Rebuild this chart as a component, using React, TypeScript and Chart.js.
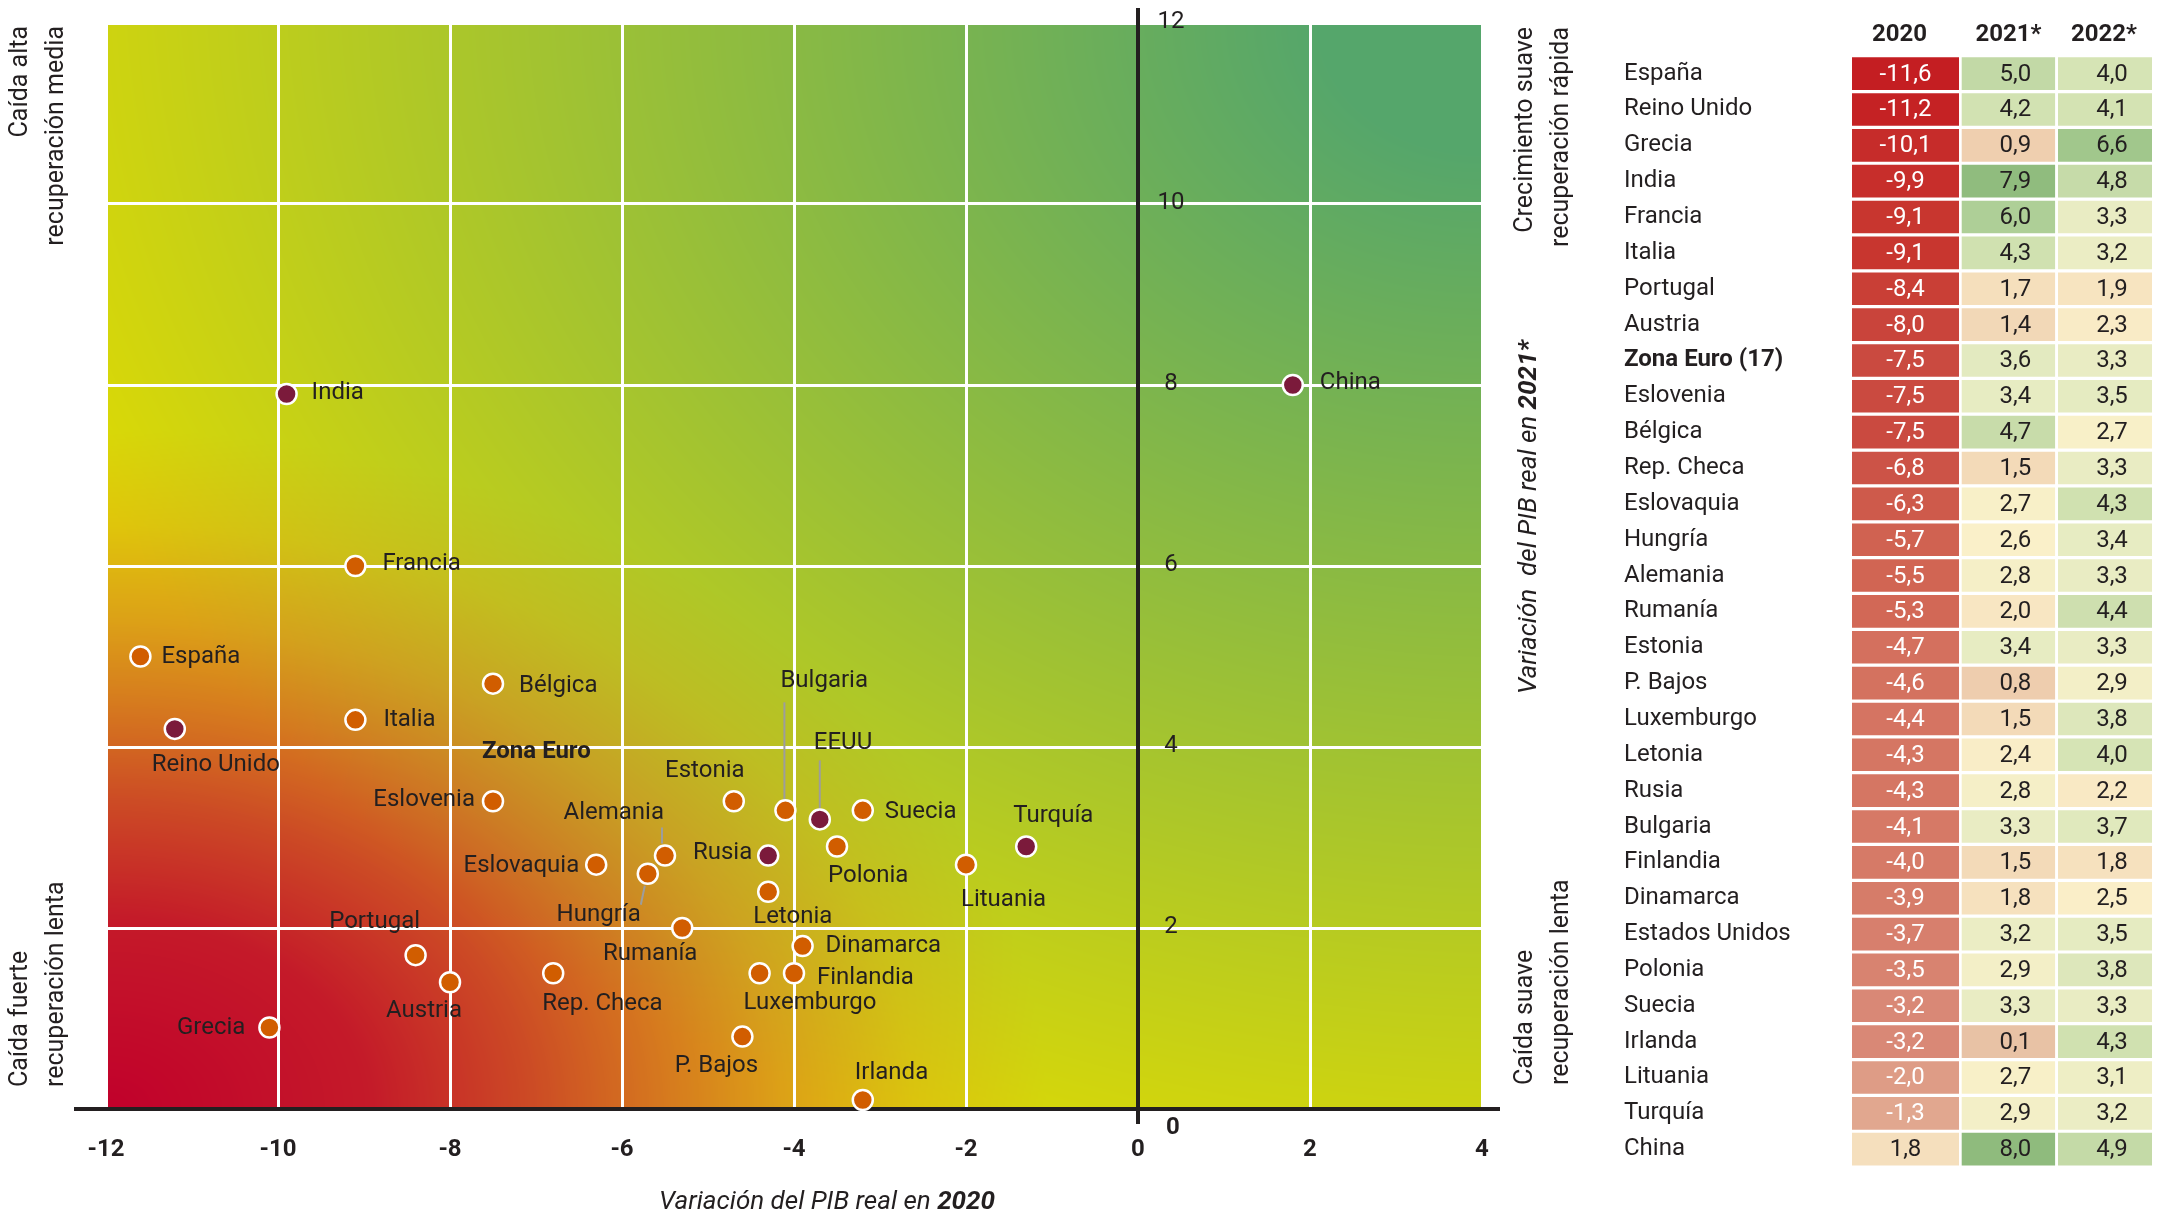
import React, { useEffect, useRef } from "react";
import { Chart, registerables } from "chart.js";
Chart.register(...registerables);

// ---------------- DATA ----------------
const COUNTRIES = [
  "España", "Reino Unido", "Grecia", "India", "Francia", "Italia", "Portugal", "Austria",
  "Zona Euro (17)", "Eslovenia", "Bélgica", "Rep. Checa", "Eslovaquia", "Hungría", "Alemania",
  "Rumanía", "Estonia", "P. Bajos", "Luxemburgo", "Letonia", "Rusia", "Bulgaria", "Finlandia",
  "Dinamarca", "Estados Unidos", "Polonia", "Suecia", "Irlanda", "Lituania", "Turquía", "China",
];
const GDP_2020 = [
  -11.6, -11.2, -10.1, -9.9, -9.1, -9.1, -8.4, -8.0, -7.5, -7.5, -7.5, -6.8, -6.3, -5.7, -5.5,
  -5.3, -4.7, -4.6, -4.4, -4.3, -4.3, -4.1, -4.0, -3.9, -3.7, -3.5, -3.2, -3.2, -2.0, -1.3, 1.8,
];
const GDP_2021 = [
  5.0, 4.2, 0.9, 7.9, 6.0, 4.3, 1.7, 1.4, 3.6, 3.4, 4.7, 1.5, 2.7, 2.6, 2.8,
  2.0, 3.4, 0.8, 1.5, 2.4, 2.8, 3.3, 1.5, 1.8, 3.2, 2.9, 3.3, 0.1, 2.7, 2.9, 8.0,
];
const GDP_2022 = [
  4.0, 4.1, 6.6, 4.8, 3.3, 3.2, 1.9, 2.3, 3.3, 3.5, 2.7, 3.3, 4.3, 3.4, 3.3,
  4.4, 3.3, 2.9, 3.8, 4.0, 2.2, 3.7, 1.8, 2.5, 3.5, 3.8, 3.3, 4.3, 3.1, 3.2, 4.9,
];
const NON_EU = ["Reino Unido", "India", "Rusia", "Estados Unidos", "Turquía", "China"];
const AGGREGATES = ["Zona Euro (17)"];
const SHORT_NAMES: Record<string, string> = { "Estados Unidos": "EEUU", "Zona Euro (17)": "Zona Euro" };
const X_TICKS = [-12, -10, -8, -6, -4, -2, 0, 2, 4];
const Y_TICKS = [0, 2, 4, 6, 8, 10, 12];
const TABLE_HEADERS = ["2020", "2021*", "2022*"];
const X_TITLE = ["Variación del PIB real en ", "2020"];
const Y_TITLE = ["Variación  del PIB real en ", "2021*"];
const QUADRANTS = {
  topLeft: ["Caída alta", "recuperación media"],
  bottomLeft: ["Caída fuerte", "recuperación lenta"],
  topRight: ["Crecimiento suave", "recuperación rápida"],
  bottomRight: ["Caída suave", "recuperación lenta"],
};

// ---------------- LAYOUT / STYLE ----------------
const FONT = "Roboto, 'Noto Sans', sans-serif";
const INK = "#231f20";
const ORANGE = "#d15d00";
const MAROON = "#7b1a3b";
const LABEL_LAYOUT: Record<string, [number, number, CanvasTextAlign]> = {
  "España": [21, 0, "left"],
  "Reino Unido": [-23, 36, "left"],
  "Grecia": [-24, 0, "right"],
  "India": [25, -1, "left"],
  "Francia": [27, -2, "left"],
  "Italia": [28, 0, "left"],
  "Portugal": [-41, -33, "center"],
  "Austria": [-26, 29, "center"],
  "Zona Euro": [-11, -31, "left"],
  "Eslovenia": [-18, -1, "right"],
  "Bélgica": [26, 2, "left"],
  "Rep. Checa": [-11, 31, "left"],
  "Eslovaquia": [-17, 1, "right"],
  "Hungría": [-7, 41, "right"],
  "Alemania": [-1, -43, "right"],
  "Rumanía": [-32, 26, "center"],
  "Estonia": [-29, -30, "center"],
  "P. Bajos": [-26, 29, "center"],
  "Luxemburgo": [-16, 30, "left"],
  "Letonia": [-15, 25, "left"],
  "Rusia": [-16, -3, "right"],
  "Bulgaria": [-5, -129, "left"],
  "Finlandia": [23, 5, "left"],
  "Dinamarca": [23, 0, "left"],
  "EEUU": [-6, -76, "left"],
  "Polonia": [-9, 29, "left"],
  "Suecia": [22, 2, "left"],
  "Irlanda": [-8, -27, "left"],
  "Lituania": [-5, 35, "left"],
  "Turquía": [-13, -31, "left"],
  "China": [27, -2, "left"],
};
const LEADERS: Record<string, [number, number, number, number]> = {
  "Hungría": [-3, 12, -7, 31],
  "Alemania": [-3, -12, -3, -28],
  "Bulgaria": [-1, -11, -1, -108],
  "EEUU": [0, -11, 0, -59],
};
const COL_EDGES: [number, number][] = [[0, 107], [109.7, 203.1], [206, 300]];
const COL_TEXT_SHIFT = [0, 7, 7];
const HEADER_SHIFT = [-6, 0, -1];

const BASE_STOPS: [number, string][] = [
  [0, "#c1002b"], [0.28, "#c41a29"], [0.45, "#cc4a25"], [0.6, "#d67b1e"],
  [0.72, "#dca117"], [0.86, "#dfc50b"], [1.0, "#dcd905"], [2.6, "#d6d60a"],
];
const GREEN = "#55a66b";
const C2020_STOPS: [number, string][] = [
  [-11.6, "#c41e22"], [-9.1, "#c8362f"], [-7.5, "#ca4a40"], [-5.5, "#d16553"],
  [-4.0, "#d67a67"], [-3.2, "#d98876"], [-1.3, "#e1a78f"], [0, "#efcdb0"], [1.8, "#f5dfbd"],
];
const CFORE_STOPS: [number, string][] = [
  [0.1, "#e8c2a5"], [0.8, "#eecdae"], [1.5, "#f3dab8"], [2.0, "#f8e6c2"], [2.6, "#faf0c9"],
  [3.2, "#ebedc4"], [3.6, "#e3eac0"], [4.0, "#d6e4b5"], [4.7, "#c8dcaa"], [6.0, "#aecf97"],
  [6.6, "#a1c78c"], [8.0, "#8fbb7d"],
];

function hexRgb(h: string): number[] {
  return [parseInt(h.slice(1, 3), 16), parseInt(h.slice(3, 5), 16), parseInt(h.slice(5, 7), 16)];
}
function interpStops(stops: [number, string][], v: number): number[] {
  if (v <= stops[0][0]) return hexRgb(stops[0][1]);
  for (let i = 1; i < stops.length; i++) {
    if (v <= stops[i][0]) {
      const [a, ca] = stops[i - 1];
      const [b, cb] = stops[i];
      const t = (v - a) / (b - a);
      const A = hexRgb(ca), B = hexRgb(cb);
      return A.map((x, k) => x + (B[k] - x) * t);
    }
  }
  return hexRgb(stops[stops.length - 1][1]);
}
function rgbStr(c: number[]) {
  return `rgb(${Math.round(c[0])},${Math.round(c[1])},${Math.round(c[2])})`;
}
function fmt(v: number) {
  return v.toFixed(1).replace(".", ",");
}

// ---------------- PLUGINS ----------------
const gradientPlugin = {
  id: "quadGradient",
  beforeDraw(chart: any) {
    const { ctx, chartArea } = chart;
    const L = Math.round(chartArea.left), T = Math.round(chartArea.top);
    const w = Math.round(chartArea.right) - L, h = Math.round(chartArea.bottom) - T;
    const img = ctx.createImageData(w, h);
    const lut: number[][] = [];
    const N = 1024, UMAX = 2.6;
    for (let i = 0; i <= N; i++) lut.push(interpStops(BASE_STOPS, (i / N) * UMAX));
    const G = hexRgb(GREEN);
    const W1 = 940, H1 = 680, W2 = 1500, H2 = 1200;
    for (let py = 0; py < h; py++) {
      const dy = h - py;
      const dyr = py;
      for (let px = 0; px < w; px++) {
        const dx = px;
        const u = Math.sqrt((dx / W1) ** 2 + (dy / H1) ** 2);
        const b = lut[Math.min(N, Math.round((u / UMAX) * N))];
        const dxr = w - px;
        const v = Math.sqrt((dxr / W2) ** 2 + (dyr / H2) ** 2);
        let a = 1.12 * (1 - v);
        a = a < 0 ? 0 : a > 1 ? 1 : a;
        const o = (py * w + px) * 4;
        img.data[o] = b[0] * (1 - a) + G[0] * a;
        img.data[o + 1] = b[1] * (1 - a) + G[1] * a;
        img.data[o + 2] = b[2] * (1 - a) + G[2] * a;
        img.data[o + 3] = 255;
      }
    }
    ctx.putImageData(img, L, T);
  },
};

function drawMixed(ctx: CanvasRenderingContext2D, parts: [string, string][], x: number, y: number) {
  let total = 0;
  const widths = parts.map(([t, f]) => { ctx.font = f; const m = ctx.measureText(t).width; total += m; return m; });
  let cx = x - total / 2;
  ctx.textAlign = "left";
  parts.forEach(([t, f], k) => { ctx.font = f; ctx.fillText(t, cx, y); cx += widths[k]; });
}
function rotLines(ctx: CanvasRenderingContext2D, lines: string[], xs: number[], yAnchor: number, align: CanvasTextAlign) {
  lines.forEach((t, k) => {
    ctx.save();
    ctx.translate(xs[k], yAnchor);
    ctx.rotate(-Math.PI / 2);
    ctx.textAlign = align;
    ctx.textBaseline = "middle";
    ctx.fillText(t, 0, 0);
    ctx.restore();
  });
}

const scatterTextPlugin = {
  id: "scatterText",
  beforeDatasetsDraw(chart: any) {
    const { ctx, chartArea } = chart;
    const xs = chart.scales.x, ys = chart.scales.y;
    ctx.save();
    ctx.strokeStyle = "#9d9d9c";
    ctx.lineWidth = 2;
    COUNTRIES.forEach((c, i) => {
      const L = LEADERS[SHORT_NAMES[c] || c];
      if (!L) return;
      const px = xs.getPixelForValue(GDP_2020[i]), py = ys.getPixelForValue(GDP_2021[i]);
      ctx.beginPath();
      ctx.moveTo(px + L[0], py + L[1]);
      ctx.lineTo(px + L[2], py + L[3]);
      ctx.stroke();
    });
    const y0 = ys.getPixelForValue(0), x0 = xs.getPixelForValue(0);
    ctx.strokeStyle = INK;
    ctx.lineWidth = 4;
    ctx.beginPath();
    ctx.moveTo(chartArea.left - 32, y0);
    ctx.lineTo(chartArea.right + 18, y0);
    ctx.stroke();
    ctx.beginPath();
    ctx.moveTo(x0, chartArea.top - 15);
    ctx.lineTo(x0, y0 + 15);
    ctx.stroke();
    ctx.restore();
  },
  afterDatasetsDraw(chart: any) {
    const { ctx } = chart;
    const xs = chart.scales.x, ys = chart.scales.y;
    ctx.save();
    ctx.fillStyle = INK;
    ctx.textBaseline = "middle";
    COUNTRIES.forEach((c, i) => {
      const name = SHORT_NAMES[c] || c;
      const lay = LABEL_LAYOUT[name];
      if (!lay) return;
      const px = xs.getPixelForValue(GDP_2020[i]), py = ys.getPixelForValue(GDP_2021[i]);
      ctx.font = `${AGGREGATES.includes(c) ? "bold " : ""}24px ${FONT}`;
      ctx.textAlign = lay[2];
      ctx.fillText(name, px + lay[0], py + lay[1]);
    });
    ctx.restore();
  },
  afterDraw(chart: any) {
    const { ctx } = chart;
    const xs = chart.scales.x, ys = chart.scales.y;
    const x0 = xs.getPixelForValue(0), y0 = ys.getPixelForValue(0);
    ctx.save();
    ctx.fillStyle = INK;
    ctx.textBaseline = "middle";
    ctx.textAlign = "center";
    ctx.font = `bold 24px ${FONT}`;
    X_TICKS.forEach((v) => ctx.fillText(String(v), xs.getPixelForValue(v), 1150));
    Y_TICKS.forEach((v) => {
      if (v === 0) {
        ctx.font = `bold 24px ${FONT}`;
        ctx.fillText("0", x0 + 35, y0 + 19);
      } else {
        ctx.font = `24px ${FONT}`;
        ctx.fillText(String(v), x0 + 33, ys.getPixelForValue(v) - 1);
      }
    });
    // axis titles
    drawMixed(ctx, [[X_TITLE[0], `italic 26px ${FONT}`], [X_TITLE[1], `italic bold 26px ${FONT}`]], 827, 1202);
    ctx.save();
    ctx.translate(1529, 517);
    ctx.rotate(-Math.PI / 2);
    drawMixed(ctx, [[Y_TITLE[0], `italic 26px ${FONT}`], [Y_TITLE[1], `italic bold 26px ${FONT}`]], 0, 0);
    ctx.restore();
    // quadrant notes
    ctx.font = `25px ${FONT}`;
    rotLines(ctx, QUADRANTS.topLeft, [21, 57], 26, "right");
    rotLines(ctx, QUADRANTS.bottomLeft, [21, 57], 1087, "left");
    rotLines(ctx, QUADRANTS.topRight, [1526, 1562], 27, "right");
    rotLines(ctx, QUADRANTS.bottomRight, [1526, 1562], 1085, "left");
    ctx.restore();
  },
};

const tableTextPlugin = {
  id: "tableText",
  afterDatasetsDraw(chart: any) {
    const { ctx } = chart;
    ctx.save();
    ctx.textBaseline = "middle";
    ctx.textAlign = "center";
    const cols = [GDP_2020, GDP_2021, GDP_2022];
    cols.forEach((vals, d) => {
      const meta = chart.getDatasetMeta(d);
      meta.data.forEach((el: any, i: number) => {
        const cx = (el.x + el.base) / 2 + COL_TEXT_SHIFT[d];
        ctx.font = `24px ${FONT}`;
        ctx.fillStyle = d === 0 && vals[i] < 0 ? "#ffffff" : INK;
        ctx.fillText(fmt(vals[i]), cx, el.y + 1);
      });
      const el0 = meta.data[0];
      ctx.font = `bold 24px ${FONT}`;
      ctx.fillStyle = INK;
      ctx.fillText(TABLE_HEADERS[d], (el0.x + el0.base) / 2 + HEADER_SHIFT[d], 35);
    });
    ctx.restore();
  },
};

// ---------------- CONFIGS ----------------
function scatterConfig(): any {
  const idx = COUNTRIES.map((_, i) => i);
  const pt = (i: number) => ({ x: GDP_2020[i], y: GDP_2021[i] });
  const eu = idx.filter((i) => !NON_EU.includes(COUNTRIES[i]) && !AGGREGATES.includes(COUNTRIES[i])).map(pt);
  const other = idx.filter((i) => NON_EU.includes(COUNTRIES[i])).map(pt);
  const agg = idx.filter((i) => AGGREGATES.includes(COUNTRIES[i])).map(pt);
  const common = { borderColor: "#ffffff", borderWidth: 2.5, pointRadius: 10, pointHoverRadius: 10, clip: false };
  return {
    type: "scatter",
    data: {
      datasets: [
        { label: "UE", data: eu, backgroundColor: ORANGE, ...common },
        { label: "Otros", data: other, backgroundColor: MAROON, ...common },
        { label: "Zona Euro", data: agg, pointRadius: 0, backgroundColor: "rgba(0,0,0,0)", borderWidth: 0 },
      ],
    },
    options: {
      responsive: false,
      animation: false,
      devicePixelRatio: 1,
      layout: { padding: { left: 106, right: 118, top: 23, bottom: 116 } },
      plugins: { legend: { display: false }, tooltip: { enabled: false } },
      events: [],
      scales: {
        x: {
          type: "linear", min: -12, max: 4,
          ticks: { stepSize: 2, display: false },
          grid: { color: "#ffffff", lineWidth: 3, drawTicks: false },
          border: { display: false },
        },
        y: {
          type: "linear", min: 0, max: 12,
          ticks: { stepSize: 2, display: false },
          grid: { color: "#ffffff", lineWidth: 3, drawTicks: false },
          border: { display: false },
        },
      },
    },
    plugins: [gradientPlugin, scatterTextPlugin],
  };
}

function tableConfig(): any {
  const colours = [
    GDP_2020.map((v) => rgbStr(interpStops(C2020_STOPS, v))),
    GDP_2021.map((v) => rgbStr(interpStops(CFORE_STOPS, v))),
    GDP_2022.map((v) => rgbStr(interpStops(CFORE_STOPS, v))),
  ];
  const datasets = TABLE_HEADERS.map((h, d) => ({
    label: h,
    data: COUNTRIES.map(() => COL_EDGES[d]),
    backgroundColor: colours[d],
    borderWidth: 0,
    borderSkipped: false,
    grouped: false,
    categoryPercentage: 1,
    barPercentage: 0.91,
  }));
  return {
    type: "bar",
    data: { labels: COUNTRIES, datasets },
    options: {
      indexAxis: "y",
      responsive: false,
      animation: false,
      devicePixelRatio: 1,
      events: [],
      layout: { padding: { left: 24, right: 18, top: 55.7, bottom: 57.9 } },
      plugins: { legend: { display: false }, tooltip: { enabled: false } },
      scales: {
        x: { type: "linear", min: 0, max: 300, display: false },
        y: {
          type: "category",
          position: "left",
          grid: { display: false },
          border: { display: false },
          afterFit: (scale: any) => { scale.width = 228; },
          ticks: {
            autoSkip: false,
            crossAlign: "far",
            color: INK,
            font: (c: any) => ({
              family: FONT, size: 24,
              weight: AGGREGATES.includes(COUNTRIES[c.index]) ? "bold" : "normal",
            }),
          },
        },
      },
    },
    plugins: [tableTextPlugin],
  };
}

export default function App() {
  const scatterRef = useRef<HTMLCanvasElement>(null);
  const tableRef = useRef<HTMLCanvasElement>(null);
  useEffect(() => {
    const c1 = new Chart(scatterRef.current as HTMLCanvasElement, scatterConfig());
    const c2 = new Chart(tableRef.current as HTMLCanvasElement, tableConfig());
    return () => {
      c1.destroy();
      c2.destroy();
    };
  }, []);
  return (
    <div style={{ position: "absolute", left: 0, top: 0, width: 2170, height: 1225, background: "#ffffff", overflow: "hidden" }}>
      <canvas ref={scatterRef} width={1600} height={1225} style={{ position: "absolute", left: 0, top: 0, width: 1600, height: 1225 }} />
      <canvas ref={tableRef} width={570} height={1225} style={{ position: "absolute", left: 1600, top: 0, width: 570, height: 1225 }} />
    </div>
  );
}
